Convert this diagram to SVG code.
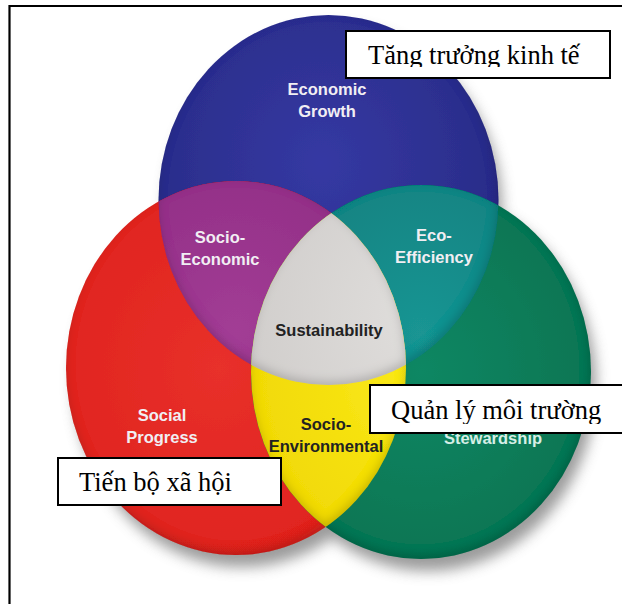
<svg xmlns="http://www.w3.org/2000/svg" width="622" height="604" viewBox="0 0 622 604">
  <defs>
    <style>
      .lbl{font-family:"Liberation Sans",Arial,sans-serif;font-weight:bold;font-size:16.5px;text-anchor:middle}
      .light{fill:#f1eef3}
      .dark{fill:#222222}
      .box{fill:#ffffff;stroke:#000000;stroke-width:2}
      .vn{font-family:"Liberation Serif","Times New Roman",serif;font-size:26.5px;fill:#000000}
      .frame{fill:none;stroke:#000000;stroke-width:2.2}
    </style>

    <!-- circle outlines reused for clipping -->
    <clipPath id="cBlue"><ellipse cx="328.5" cy="200" rx="170" ry="185"/></clipPath>
    <clipPath id="cRed"><ellipse cx="236" cy="368" rx="170" ry="187"/></clipPath>
    <clipPath id="cGreen"><ellipse cx="421" cy="372" rx="170" ry="187"/></clipPath>

    <!-- text clipping inside the label boxes -->
    <clipPath id="tClip1"><rect x="347" y="32" width="262" height="35"/></clipPath>
    <clipPath id="tClip2"><rect x="371" y="386" width="251" height="38"/></clipPath>

    <radialGradient id="gBlue" cx="0.48" cy="0.4" r="0.6">
      <stop offset="0" stop-color="#3539a3"/>
      <stop offset="1" stop-color="#282a85"/>
    </radialGradient>
    <radialGradient id="gRed" cx="0.45" cy="0.5" r="0.6">
      <stop offset="0" stop-color="#e8302a"/>
      <stop offset="0.85" stop-color="#e0241f"/>
      <stop offset="1" stop-color="#e6492a"/>
    </radialGradient>
    <radialGradient id="gGreen" cx="0.5" cy="0.5" r="0.6">
      <stop offset="0" stop-color="#0d8763"/>
      <stop offset="1" stop-color="#067250"/>
    </radialGradient>
    <radialGradient id="gPurple" cx="0.5" cy="0.4" r="0.6">
      <stop offset="0" stop-color="#a23d95"/>
      <stop offset="1" stop-color="#8d2a82"/>
    </radialGradient>
    <radialGradient id="gTeal" cx="0.5" cy="0.4" r="0.6">
      <stop offset="0" stop-color="#1a9593"/>
      <stop offset="1" stop-color="#0e7d7c"/>
    </radialGradient>
    <radialGradient id="gYellow" cx="0.5" cy="0.5" r="0.6">
      <stop offset="0" stop-color="#fbea1c"/>
      <stop offset="1" stop-color="#efd600"/>
    </radialGradient>
    <radialGradient id="gGray" cx="0.5" cy="0.35" r="0.65">
      <stop offset="0" stop-color="#e0dedc"/>
      <stop offset="1" stop-color="#cdcac8"/>
    </radialGradient>

    <!-- soft rim shading inside each region -->
    <filter id="pillow" x="-5%" y="-5%" width="110%" height="110%">
      <feGaussianBlur in="SourceAlpha" stdDeviation="5" result="blur"/>
      <feOffset in="blur" dx="-1" dy="-4" result="off"/>
      <feComposite in="SourceAlpha" in2="off" operator="out" result="rim"/>
      <feFlood flood-color="#000000" flood-opacity="0.35"/>
      <feComposite in2="rim" operator="in" result="shade"/>
      <feMerge>
        <feMergeNode in="SourceGraphic"/>
        <feMergeNode in="shade"/>
      </feMerge>
    </filter>

    <filter id="drop" x="-20%" y="-20%" width="140%" height="140%">
      <feGaussianBlur stdDeviation="7"/>
    </filter>
  </defs>

  <rect width="622" height="604" fill="#ffffff"/>

  <!-- outer frame (open on the right and bottom) -->
  <path class="frame" d="M9.5,604 V6 H622"/>

  <!-- cast shadow under the circles -->
  <g id="shadow" filter="url(#drop)" fill="#7a7a7a" opacity="0.75">
    <ellipse cx="242" cy="380" rx="168" ry="187"/>
    <ellipse cx="428" cy="384" rx="168" ry="187"/>
    <ellipse cx="334" cy="210" rx="168" ry="183"/>
  </g>

  <!-- main circles -->
  <g id="economic-growth" filter="url(#pillow)">
    <ellipse cx="328.5" cy="200" rx="170" ry="185" fill="url(#gBlue)"/>
  </g>
  <g id="social-progress" filter="url(#pillow)">
    <ellipse cx="236" cy="368" rx="170" ry="187" fill="url(#gRed)"/>
  </g>
  <g id="environmental-stewardship" filter="url(#pillow)">
    <ellipse cx="421" cy="372" rx="170" ry="187" fill="url(#gGreen)"/>
  </g>

  <!-- pairwise overlaps -->
  <g id="socio-economic" filter="url(#pillow)">
    <g clip-path="url(#cBlue)">
      <ellipse cx="236" cy="368" rx="170" ry="187" fill="url(#gPurple)"/>
    </g>
  </g>
  <g id="eco-efficiency" filter="url(#pillow)">
    <g clip-path="url(#cBlue)">
      <ellipse cx="421" cy="372" rx="170" ry="187" fill="url(#gTeal)"/>
    </g>
  </g>
  <g id="socio-environmental" filter="url(#pillow)">
    <g clip-path="url(#cRed)">
      <ellipse cx="421" cy="372" rx="170" ry="187" fill="url(#gYellow)"/>
    </g>
  </g>

  <!-- triple overlap -->
  <g id="sustainability" filter="url(#pillow)">
    <g clip-path="url(#cBlue)">
      <g clip-path="url(#cRed)">
        <ellipse cx="421" cy="372" rx="170" ry="187" fill="url(#gGray)"/>
      </g>
    </g>
  </g>

  <!-- region labels -->
  <g id="labels">
    <text class="lbl light" x="327" y="95">Economic</text>
    <text class="lbl light" x="327" y="117">Growth</text>
    <text class="lbl light" x="220" y="243">Socio-</text>
    <text class="lbl light" x="220" y="265">Economic</text>
    <text class="lbl light" x="434" y="241">Eco-</text>
    <text class="lbl light" x="434" y="263">Efficiency</text>
    <text class="lbl dark" x="329" y="336">Sustainability</text>
    <text class="lbl light" x="162" y="421">Social</text>
    <text class="lbl light" x="162" y="443">Progress</text>
    <text class="lbl dark" x="326" y="430">Socio-</text>
    <text class="lbl dark" x="326" y="452">Environmental</text>
    <text class="lbl" x="493" y="444" fill="#d6efe6">Stewardship</text>
  </g>

  <!-- Vietnamese caption boxes -->
  <g id="box-economic">
    <rect class="box" x="346" y="31" width="264" height="47"/>
    <text class="vn" x="368" y="64" clip-path="url(#tClip1)">Tăng trưởng kinh tế</text>
  </g>
  <g id="box-environment">
    <rect class="box" x="370" y="385" width="262" height="48"/>
    <text class="vn" x="391" y="419" clip-path="url(#tClip2)">Quản lý môi trường</text>
  </g>
  <g id="box-social">
    <rect class="box" x="58" y="458" width="223" height="47"/>
    <text class="vn" x="79" y="491">Tiến bộ xã hội</text>
  </g>
</svg>
